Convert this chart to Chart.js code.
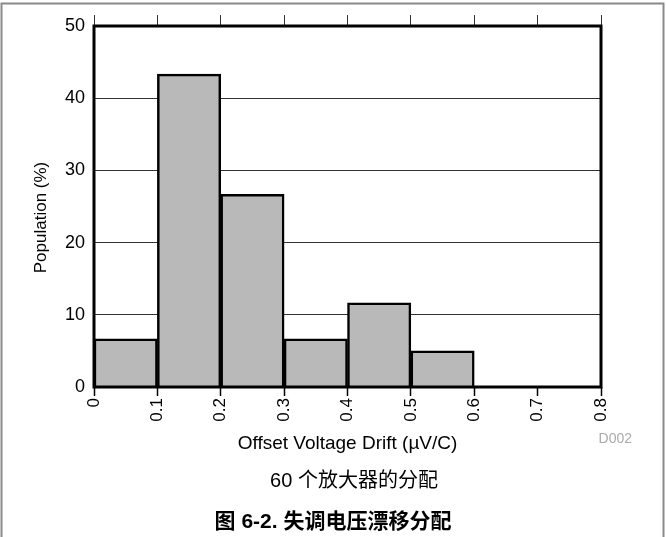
<!DOCTYPE html>
<html>
<head>
<meta charset="utf-8">
<script src="https://cdn.jsdelivr.net/npm/chart.js@4"></script>
<style>
  html, body { margin: 0; padding: 0; background: #fff; }
  #wrap { width: 666px; height: 537px; position: relative; }
</style>
</head>
<body>
<div id="wrap"><canvas id="driftChart"></canvas></div>
<script>
// 直方图数据 (每个区间中心, 百分比)
const binCenters = [0.05, 0.15, 0.25, 0.35, 0.45, 0.55];
const population = [6.67, 43.33, 26.67, 6.67, 11.67, 5.0];
const xTicks = [0, 0.1, 0.2, 0.3, 0.4, 0.5, 0.6, 0.7, 0.8];
const yTicks = [0, 10, 20, 30, 40, 50];

const xTitle = 'Offset Voltage Drift (µV/C)';
const yTitle = 'Population (%)';
const noteText = 'D002';
const subText = '60 个放大器的分配';
const captionText = '图 6-2. 失调电压漂移分配';

const FONT = '"Liberation Sans", Arial, "Noto Sans CJK SC", sans-serif';

function initDriftChart() {
    const ctx = document.getElementById('driftChart');
    if (!ctx) return;

    const fixTicks = (list) => (scale) => {
        scale.ticks = list.map(v => ({ value: v }));
    };

    // 外框、图区边框和说明文字
    const framePlugin = {
        id: 'frame',
        afterDatasetsDraw(chart) {
            const { ctx: c, chartArea: a } = chart;
            c.save();
            c.strokeStyle = '#000';
            c.lineWidth = 3;
            c.strokeRect(a.left, a.top, a.right - a.left, a.bottom - a.top);
            c.restore();
        },
        afterDraw(chart) {
            const { ctx: c, chartArea: a, width } = chart;
            c.save();
            c.strokeStyle = '#8a8a8a';
            c.lineWidth = 2;
            c.strokeRect(1.5, 3.5, width - 4, 600);

            c.textBaseline = 'middle';
            c.textAlign = 'center';
            c.fillStyle = '#000';

            // 纵轴标题 (略低于图区中心)
            c.save();
            c.translate(41, (a.top + a.bottom) / 2 + 11);
            c.rotate(-Math.PI / 2);
            c.font = '17px ' + FONT;
            c.fillText(yTitle, 0, 0);
            c.restore();

            c.fillStyle = '#aaaaaa';
            c.font = '14px ' + FONT;
            c.textAlign = 'right';
            c.fillText(noteText, a.right + 31, 439);

            c.fillStyle = '#000';
            c.textAlign = 'center';
            c.font = '20px ' + FONT;
            c.fillText(subText, 354, 481);
            c.font = 'bold 21px ' + FONT;
            c.fillText(captionText, width / 2, 522);
            c.restore();
        }
    };

    new Chart(ctx, {
        type: 'bar',
        data: {
            datasets: [{
                data: binCenters.map((x, i) => ({ x: x, y: population[i] })),
                backgroundColor: '#b9b9b9',
                borderColor: '#000',
                borderWidth: 2.5,
                barPercentage: 1,
                categoryPercentage: 1
            }]
        },
        options: {
            responsive: true,
            maintainAspectRatio: false,
            animation: false,
            events: [],
            layout: {
                padding: { left: 0, right: 65, top: 15, bottom: 80 }
            },
            plugins: {
                legend: { display: false },
                tooltip: { enabled: false }
            },
            scales: {
                x: {
                    type: 'linear',
                    position: 'bottom',
                    offset: false,
                    min: 0,
                    max: 0.8,
                    afterBuildTicks: fixTicks(xTicks),
                    afterFit: (s) => { s.height = 70; },
                    border: { display: false },
                    grid: {
                        offset: false,
                        drawOnChartArea: false,
                        drawTicks: true,
                        tickLength: 9,
                        tickColor: '#000',
                        tickWidth: 1.5
                    },
                    ticks: {
                        autoSkip: false,
                        minRotation: 90,
                        maxRotation: 90,
                        padding: 2,
                        color: '#000',
                        font: { family: FONT, size: 17 },
                        callback: (v) => String(+Number(v).toFixed(1))
                    },
                    title: {
                        display: true,
                        text: xTitle,
                        color: '#000',
                        font: { family: FONT, size: 19 },
                        padding: { top: 0, bottom: 2 }
                    }
                },
                xTop: {
                    type: 'linear',
                    position: 'top',
                    offset: false,
                    min: 0,
                    max: 0.8,
                    afterBuildTicks: fixTicks(xTicks),
                    afterFit: (s) => { s.height = 11; },
                    border: { display: false },
                    grid: {
                        offset: false,
                        drawOnChartArea: false,
                        drawTicks: true,
                        tickLength: 11,
                        tickColor: '#333',
                        tickWidth: 1
                    },
                    ticks: { display: false }
                },
                y: {
                    min: 0,
                    max: 50,
                    afterBuildTicks: fixTicks(yTicks),
                    afterFit: (s) => { s.width = 94; },
                    border: { display: false },
                    grid: {
                        color: '#333',
                        lineWidth: 1,
                        drawTicks: false
                    },
                    ticks: {
                        padding: 9,
                        color: '#000',
                        font: { family: FONT, size: 18 }
                    }
                }
            }
        },
        plugins: [framePlugin]
    });
}

initDriftChart();
</script>
</body>
</html>
